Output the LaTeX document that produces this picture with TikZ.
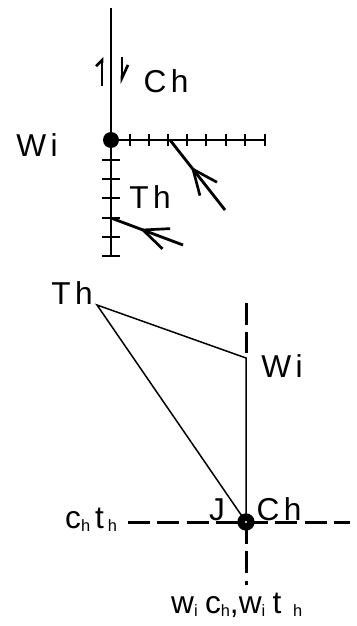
\documentclass[tikz,border=0pt]{standalone}
\usepackage{fontspec}
\setmainfont{Liberation Sans}
\newfontfamily\lblfont[LetterSpace=14]{Liberation Sans}
\usetikzlibrary{arrows.meta, decorations.markings}

\newcommand{\lowsub}[1]{\raisebox{-0.2ex}{\fontsize{14}{14}\selectfont #1}}

\tikzset{
  axisline/.style={line width=0.85mm},
  tickline/.style={line width=0.6mm},
  thinline/.style={line width=0.45mm},
  dashline/.style={line width=0.9mm, dash pattern=on 6.6mm off 2.2mm},
  harp/.style={line width=0.8mm, -{Straight Barb[left, length=#1, width=3.6mm]}},
  lbl/.style={font=\lblfont\fontsize{27}{30}\selectfont, inner sep=0pt},
  sublbl/.style={font=\fontsize{27}{30}\selectfont, inner sep=0pt, anchor=base west},
  dot/.style={circle, fill, inner sep=0pt, minimum size=#1},
  midback/.style={postaction={decorate}, decoration={markings,
    mark=at position #1 with {\arrow{Straight Barb[length=7.5mm, width=6.5mm, line width=0.8mm]}}}}
}

\begin{document}
\begin{tikzpicture}[x=0.3mm, y=-0.3mm]
\useasboundingbox (0,0) rectangle (356,626);

% upper sketch: axes with ticks
\node[dot=4.8mm] (w) at (111,140) {};
\coordinate (top) at (111,8);
\coordinate (bot) at (111,256);
\coordinate (right) at (265,140);
\draw[axisline] (top) -- (w.center) -- (bot);
\draw[axisline] (w.center) -- (right);
\foreach \x in {130,149,168,187,206,226,245,265} {
  \draw[tickline] (\x,134) -- (\x,146);
}
\foreach \y in {160,179,198,218,237,256} {
  \draw[tickline] (102,\y) -- (120,\y);
}

% the two arrows
\draw[harp=1.8mm] (102,86) -- (102,57);
\draw[harp=3.9mm] (122,57) -- (122,84);
\coordinate (a1) at (225,210);
\coordinate (a0) at (170,140);
\coordinate (b1) at (183,245);
\coordinate (b0) at (111,218);
\draw[axisline, midback=0.62] (a1) -- (a0);
\draw[axisline, midback=0.6] (b1) -- (b0);

\node[lbl] (chtop) at (166,81) {Ch};
\node[lbl] (witop) at (37,145) {Wi};
\node[lbl] (thtop) at (150,197) {Th};

% lower sketch
\coordinate (th) at (97,305);
\coordinate (wi) at (246,358);
\node[dot=5.2mm] (j) at (246,522) {};
\coordinate (vtop) at (246,303);
\coordinate (vbot) at (246,585);
\coordinate (hl) at (128,522);
\coordinate (hr) at (350,522);
\draw[dashline] (vtop) -- (246,353);
\draw[dashline] (j.center) -- (vbot);
\draw[dashline] (hl) -- (j.center);
\draw[dashline] (j.center) -- (hr);
\draw[thinline] (th) -- (wi) -- (j.center) -- cycle;
\fill[white] (j.center) circle (0.35mm);

\node[lbl] (thlow) at (72,293) {Th};
\node[lbl] (wilow) at (282,366) {Wi};
\node[lbl] (jlbl) at (217,510) {J};
\node[lbl] (chlow) at (279,509) {Ch};
\node[sublbl] (chth) at (65,528) {c\lowsub{h}\kern1.5mm t\kern1.2mm\lowsub{h}};
\node[sublbl] (wcwt) at (171,613) {w\lowsub{i}\kern2.2mm c\lowsub{h},w\lowsub{i}\kern2.2mm t\kern3.5mm\lowsub{h}};
\end{tikzpicture}
\end{document}
